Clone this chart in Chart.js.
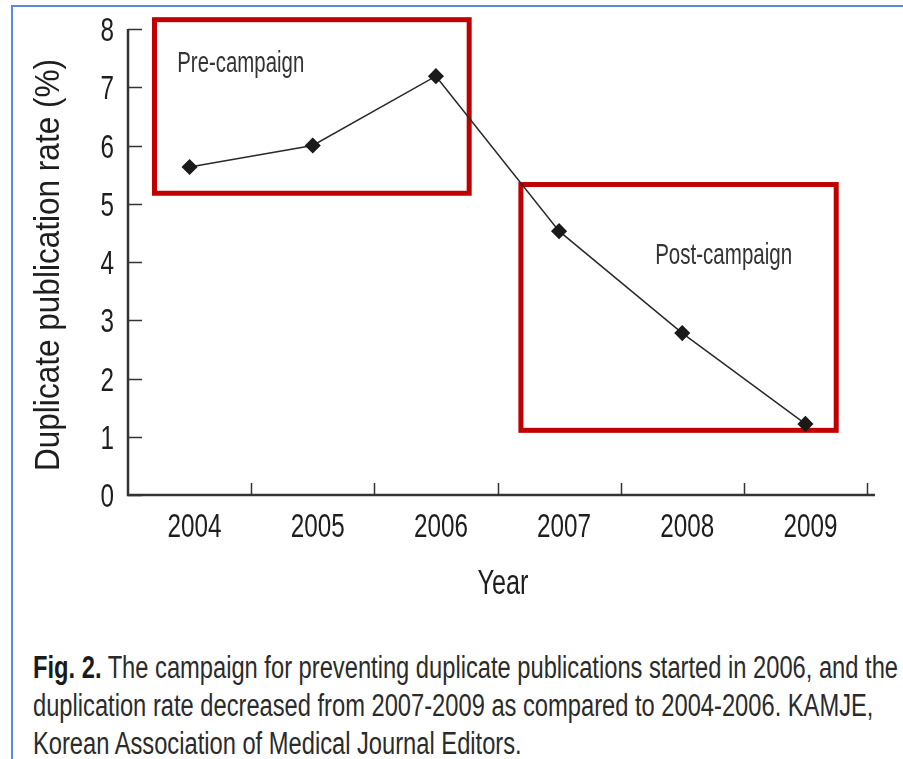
<!DOCTYPE html>
<html>
<head>
<meta charset="utf-8">
<script src="https://cdn.jsdelivr.net/npm/chart.js@4.4.0/dist/chart.umd.min.js"></script>
<style>
  html, body { margin: 0; padding: 0; background: #fff; overflow: hidden; }
  body { width: 903px; height: 759px; position: relative; font-family: "Liberation Sans", Arial, sans-serif; }
  #frame { position: absolute; left: 11px; top: 5px; width: 1000px; height: 1000px; border-left: 2px solid #5b8ad8; border-top: 2px solid #5b8ad8; }
  #wrap { position: absolute; left: 0; top: 0; width: 903px; height: 620px; }
  .cap { position: absolute; left: 33px; font-size: 31px; line-height: 31px; color: #2b2b2b; white-space: nowrap; transform-origin: 0 0; }
  .cap b { color: #1a1a1a; }
</style>
</head>
<body>
<div id="frame"></div>
<div id="wrap"><canvas id="rateChart"></canvas></div>
<div class="cap" id="cap1" style="top:652px"><b>Fig. 2.</b> The campaign for preventing duplicate publications started in 2006, and the</div>
<div class="cap" style="top:690px">duplication rate decreased from 2007-2009 as compared to 2004-2006. KAMJE,</div>
<div class="cap" style="top:728px">Korean Association of Medical Journal Editors.</div>

<script>
// values
const years = ["2004", "2005", "2006", "2007", "2008", "2009"];
const rates = [5.63, 6.0, 7.19, 4.53, 2.78, 1.22];
const yMin = 0;
const yMax = 8;
const yStep = 1;

const FONT = "'Liberation Sans', Arial, sans-serif";
const INK = "#1e1e1e";

// the original uses a condensed Helvetica; squeeze Liberation Sans to the widths measured on it
function condText(ctx, text, x, y, size, widthRef, refText, opts = {}) {
  ctx.save();
  ctx.font = (opts.weight || "") + " " + size + "px " + FONT;
  const sx = widthRef / ctx.measureText(refText || text).width;
  ctx.translate(x, y);
  if (opts.rotate) ctx.rotate(opts.rotate);
  ctx.scale(sx, 1);
  ctx.textAlign = opts.align || "left";
  ctx.textBaseline = "alphabetic";
  ctx.fillStyle = opts.color || INK;
  ctx.fillText(text, 0, 0);
  ctx.restore();
}

// red highlight boxes and their labels, in data units (category index / rate)
const regions = [
  { x0: -0.285, x1: 2.27, y0: 8.16, y1: 5.18, text: "Pre-campaign", tx: -0.10, ty: 7.26, w: 127 },
  { x0: 2.69, x1: 5.25, y0: 5.33, y1: 1.11, text: "Post-campaign", tx: 3.78, ty: 3.97, w: 137 }
];

const figurePlugin = {
  id: "figure",
  beforeDatasetsDraw(chart) {
    const { ctx, scales: { x, y } } = chart;
    ctx.save();
    ctx.strokeStyle = "#c00000";
    ctx.lineWidth = 5;
    regions.forEach(r => {
      const l = x.getPixelForValue(r.x0), rt = x.getPixelForValue(r.x1);
      const t = y.getPixelForValue(r.y0), b = y.getPixelForValue(r.y1);
      ctx.strokeRect(l, t, rt - l, b - t);
    });
    ctx.restore();
    regions.forEach(r => {
      condText(ctx, r.text, x.getPixelForValue(r.tx), y.getPixelForValue(r.ty), 29, r.w, null, { color: "#333" });
    });
  },
  afterDraw(chart) {
    const { ctx, chartArea: a, scales: { x, y } } = chart;
    ctx.save();
    ctx.strokeStyle = "#333";
    // axis lines
    ctx.lineWidth = 2.5;
    ctx.beginPath();
    ctx.moveTo(a.left, a.top);
    ctx.lineTo(a.left, a.bottom);
    ctx.lineTo(a.right + 8, a.bottom);
    ctx.stroke();
    // inward ticks on y
    ctx.lineWidth = 1.5;
    ctx.beginPath();
    y.ticks.forEach(t => {
      const py = Math.round(y.getPixelForValue(t.value)) + 0.5;
      ctx.moveTo(a.left, py);
      ctx.lineTo(a.left + 14, py);
    });
    // upward ticks between years
    for (let i = 1; i <= years.length; i++) {
      const px = Math.round(x.getPixelForValue(i - 0.5)) + 0.5;
      ctx.moveTo(px, a.bottom);
      ctx.lineTo(px, a.bottom - 12);
    }
    ctx.stroke();
    ctx.restore();

    // tick labels
    x.getLabels().forEach((lab, i) => {
      condText(ctx, lab, x.getPixelForValue(i) + 5, a.bottom + 42, 33, 54, "2004", { align: "center" });
    });
    y.ticks.forEach(t => {
      condText(ctx, String(t.value), a.left - 14, y.getPixelForValue(t.value) + 12, 33, 54, "2004", { align: "right" });
    });
    // axis titles
    condText(ctx, "Year", 503, 594, 35, 51, null, { align: "center" });
    condText(ctx, "Duplicate publication rate (%)", 59, (a.top + a.bottom) / 2 + 3, 35, 412, null,
      { align: "center", rotate: -Math.PI / 2 });
  }
};

new Chart(document.getElementById("rateChart"), {
  type: "line",
  data: {
    labels: years,
    datasets: [{
      data: rates,
      borderColor: "#2a2a2a",
      borderWidth: 1.5,
      pointStyle: "rectRot",
      pointRadius: 7,
      pointBackgroundColor: "#1a1a1a",
      pointBorderColor: "#1a1a1a",
      tension: 0
    }]
  },
  options: {
    responsive: true,
    maintainAspectRatio: false,
    animation: false,
    layout: { padding: { top: 29, right: 36, left: 0, bottom: 0 } },
    plugins: { legend: { display: false }, tooltip: { enabled: false } },
    scales: {
      x: {
        offset: true,
        grid: { display: false, drawTicks: false },
        border: { display: false },
        ticks: { display: false },
        afterFit: s => { s.height = 125; }
      },
      y: {
        min: yMin,
        max: yMax,
        grid: { display: false, drawTicks: false },
        border: { display: false },
        ticks: { stepSize: yStep, display: false },
        afterFit: s => { s.width = 128; }
      }
    }
  },
  plugins: [figurePlugin]
});

// fit the caption lines to the measured width of the first one (865px)
const cap1 = document.getElementById("cap1");
const capScale = 865 / cap1.getBoundingClientRect().width;
document.querySelectorAll(".cap").forEach(el => { el.style.transform = "scaleX(" + capScale + ")"; });
</script>
</body>
</html>
